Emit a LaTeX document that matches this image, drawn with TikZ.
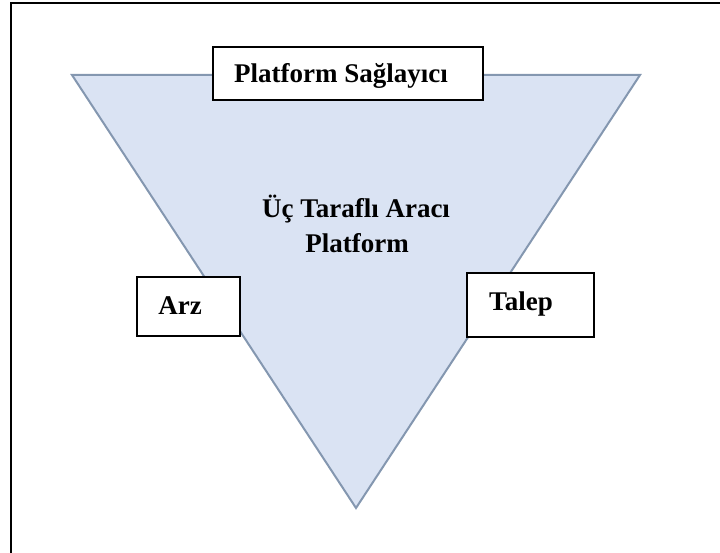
\documentclass[tikz,border=0pt]{standalone}
\usepackage{fontspec}
\setmainfont{Liberation Serif}
\begin{document}
\begin{tikzpicture}[x=1pt,y=-1pt,
  lbl/.style={font=\bfseries\fontsize{27}{32}\selectfont, text=black, inner sep=0pt, anchor=base},
  box/.style={draw=black, line width=2pt, fill=white},
  tri/.style={draw=steelline, line width=2pt, fill=trifill, line join=miter}]
\definecolor{trifill}{HTML}{DAE3F3}
\definecolor{steelline}{HTML}{8497B0}
\useasboundingbox (0,0) rectangle (720,553);
% frame edges
\draw[line width=2.5pt] (10,3) -- (720,3);
\draw[line width=2.5pt] (11,3) -- (11,553);
% inverted triangle
\draw[tri] (72,75) -- (640,75) -- (356,508) -- cycle;
% boxes
\draw[box] (213,47) rectangle (483,100);
\draw[box] (137,277) rectangle (240,336);
\draw[box] (467,273) rectangle (594,337);
% labels
\node[lbl] (prov) at (341,83) {Platform Sağlayıcı};
\node[lbl] (mid1) at (356,218) {Üç Taraflı Aracı};
\node[lbl] (mid2) at (357,253) {Platform};
\node[lbl] (arz) at (180,314) {Arz};
\node[lbl] (talep) at (521,310) {Talep};
\end{tikzpicture}
\end{document}
